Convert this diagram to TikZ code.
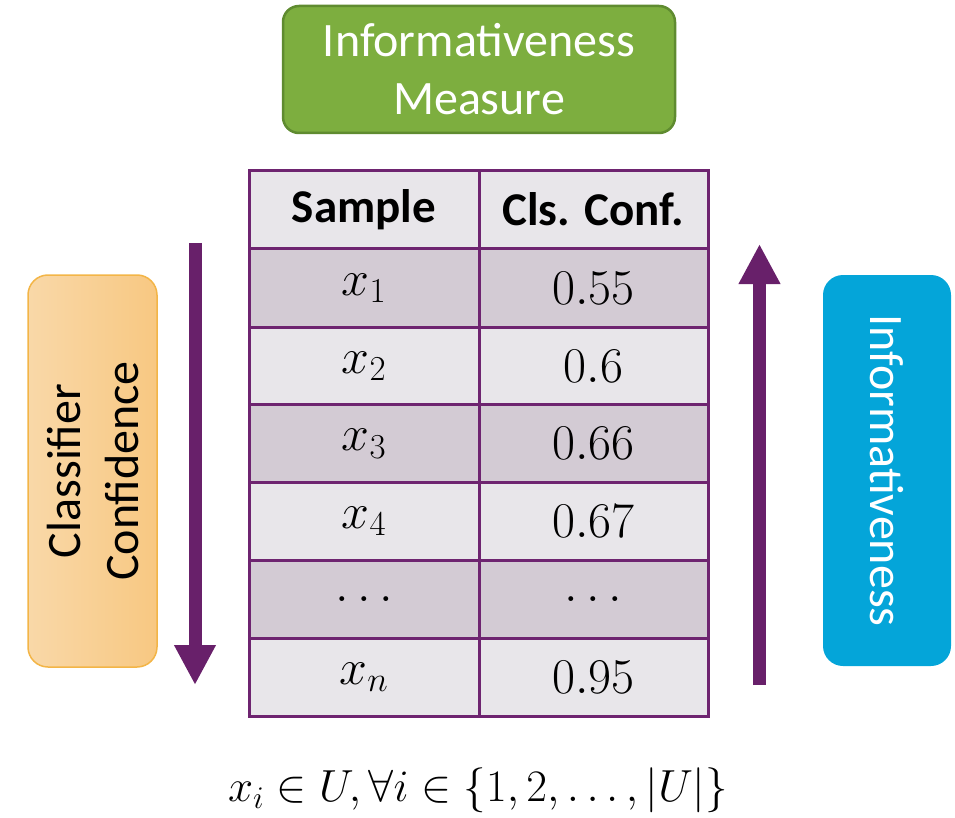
\RequirePackage{fix-cm}
\documentclass[tikz,border=0pt]{standalone}
\usepackage[no-math]{fontspec}
\setmainfont{Carlito}
\usetikzlibrary{arrows.meta}
\definecolor{tblpurple}{HTML}{6E2470}
\definecolor{arrowpurple}{HTML}{68206A}
\definecolor{rowlight}{HTML}{E8E6EA}
\definecolor{rowdark}{HTML}{D3CBD4}
\definecolor{greenfill}{HTML}{7DAE3F}
\definecolor{greenline}{HTML}{5F8B30}
\definecolor{bluefill}{HTML}{04A5D9}
\definecolor{orangeL}{HTML}{F9D8A8}
\definecolor{orangeR}{HTML}{F8C882}
\definecolor{orangeline}{HTML}{F3B547}
\tikzset{
  cell/.style={draw=tblpurple, line width=3pt, inner sep=0pt, minimum height=78pt,
    font=\fontsize{50}{60}\selectfont},
  colA/.style={cell, minimum width=230pt},
  colB/.style={cell, minimum width=229pt},
  lt/.style={fill=rowlight},
  dk/.style={fill=rowdark},
  hdr/.style={font=\fontsize{47}{56}\selectfont\bfseries},
  bigtext/.style={font=\fontsize{48}{58}\selectfont, align=center, inner sep=0pt},
  fatarrow/.style={draw=arrowpurple, line width=13pt,
    -{Triangle[width=39pt,length=40pt]}},
}
\begin{document}
\begin{tikzpicture}[x=1pt, y=-1pt]
\useasboundingbox (0,0) rectangle (955,818);
% top box
\node[fill=greenfill, draw=greenline, line width=2.5pt, rounded corners=16pt,
  minimum width=392pt, minimum height=127pt, inner sep=0pt] (measure) at (479,69.5) {};
\node[bigtext, text=white] (measuretxt) at (measure.center) {Informativeness\\Measure};
% left box
\node[left color=orangeL, right color=orangeR, draw=orangeline, line width=1.5pt,
  rounded corners=20pt, minimum width=129pt, minimum height=392pt, inner sep=0pt]
  (conf) at (92.5,471) {};
\node[bigtext, rotate=90] (conftxt) at (conf.center) {Classifier\\Confidence};
% right box
\node[fill=bluefill, rounded corners=20pt, minimum width=128pt, minimum height=391pt,
  inner sep=0pt] (info) at (887,470.5) {};
\node[bigtext, text=white, rotate=-90] (infotxt) at (info.center) {Informativeness};
% table
\node[colA, lt, hdr] (h1) at (364,209.5) {Sample};
\node[colB, lt, hdr] (h2) at (593.5,209.5) {Cls. Conf.};
\node[colA, dk] (a1) at (364,288) {$x_1$};
\node[colB, dk] (b1) at (593.5,288) {$0.55$};
\node[colA, lt] (a2) at (364,366) {$x_2$};
\node[colB, lt] (b2) at (593.5,366) {$0.6$};
\node[colA, dk] (a3) at (364,443.5) {$x_3$};
\node[colB, dk] (b3) at (593.5,443.5) {$0.66$};
\node[colA, lt] (a4) at (364,521) {$x_4$};
\node[colB, lt] (b4) at (593.5,521) {$0.67$};
\node[colA, dk] (a5) at (364,599) {$\dots$};
\node[colB, dk] (b5) at (593.5,599) {$\dots$};
\node[colA, lt] (a6) at (364,677) {$x_n$};
\node[colB, lt] (b6) at (593.5,677) {$0.95$};
% arrows
\coordinate (dstart) at (195,243);
\coordinate (dend) at (195,685);
\coordinate (ustart) at (759.5,685);
\coordinate (uend) at (759.5,244);
\draw[fatarrow] (dstart) -- (dend);
\draw[fatarrow] (ustart) -- (uend);
% formula
\node[font=\fontsize{45}{54}\selectfont, inner sep=0pt] (formula) at (478,790)
  {$x_i \in U, \forall i \in \{1, 2, \dots, |U|\}$};
\end{tikzpicture}
\end{document}
